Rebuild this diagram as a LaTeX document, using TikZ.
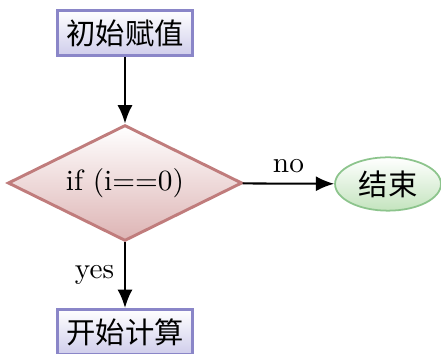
\documentclass[tikz,border=0pt]{standalone}
\usepackage{fontspec}
\newfontfamily\cjk{Noto Sans CJK SC}
\usetikzlibrary{arrows.meta, shapes.geometric}
\definecolor{cboxline}{HTML}{8A86C8}
\definecolor{cboxfill}{HTML}{CFCDEB}
\definecolor{cdecline}{HTML}{C07C7C}
\definecolor{cdecfill}{HTML}{DDB4B4}
\definecolor{cendline}{HTML}{8CC48C}
\definecolor{cendfill}{HTML}{C4E4BE}
\tikzset{
  every picture/.style={font=\normalsize},
  procbox/.style={draw=cboxline, line width=1pt, top color=white, bottom color=cboxfill,
    font=\cjk, minimum width=1.63cm, minimum height=0.54cm, inner sep=2pt},
  decision/.style={diamond, aspect=2, draw=cdecline, line width=1pt, top color=white,
    bottom color=cdecfill, minimum width=2.81cm, minimum height=1.39cm, inner sep=0pt},
  stopnode/.style={ellipse, draw=cendline, line width=0.6pt, top color=white,
    bottom color=cendfill, font=\cjk, minimum width=1.27cm, minimum height=0.64cm, inner sep=0pt},
  arrow/.style={-{Latex[length=2.2mm, width=1.8mm]}, line width=0.7pt},
}
\begin{document}
\begin{tikzpicture}[x=0.012cm, y=-0.012cm]
  \useasboundingbox (0,0) rectangle (441,354);
  \node[procbox] (init) at (125,33) {初始赋值};
  \node[decision] (test) at (125,183) {if (i==0)};
  \node[stopnode] (stop) at (388,184) {结束};
  \node[procbox] (calc) at (125,332) {开始计算};
  \draw[arrow] (init) -- (test);
  \draw[arrow] (test) -- node[left] {yes} (calc);
  \draw[arrow] (test) -- node[above] {no} (stop);
\end{tikzpicture}
\end{document}
